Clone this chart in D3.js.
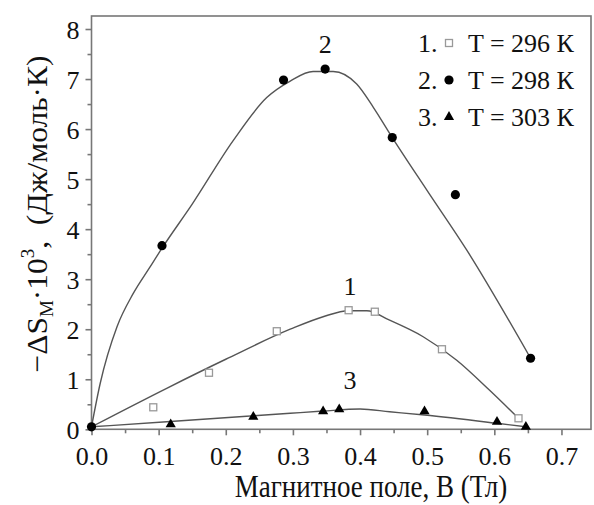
<!DOCTYPE html>
<html>
<head>
<meta charset="utf-8">
<script src="https://cdn.jsdelivr.net/npm/d3@7"></script>
<style>
  body { margin: 0; background: #fff; }
  svg text { font-family: "Liberation Serif", "Times New Roman", serif; fill: #111; }
</style>
</head>
<body>
<svg width="594" height="505"></svg>
<script>
// measured points, B (Тл) vs -dS*10^3
const pts296 = [[0.092, 0.44], [0.175, 1.13], [0.276, 1.96], [0.383, 2.38], [0.422, 2.35], [0.522, 1.60], [0.636, 0.22]];
const pts298 = [[0, 0.05], [0.105, 3.67], [0.286, 6.98], [0.348, 7.20], [0.448, 5.83], [0.542, 4.69], [0.654, 1.42]];
const pts303 = [[0.118, 0.10], [0.241, 0.25], [0.345, 0.36], [0.369, 0.40], [0.496, 0.36], [0.604, 0.15], [0.647, 0.05]];

// fitted curves
const fit296 = [[0, 0.05], [0.112, 0.82], [0.2, 1.4], [0.296, 2.0], [0.345, 2.25], [0.383, 2.37], [0.41, 2.37], [0.444, 2.18], [0.494, 1.85], [0.544, 1.38], [0.593, 0.78], [0.636, 0.22]];
const fit298 = [[0, 0.05], [0.013, 0.92], [0.038, 2.05], [0.062, 2.71], [0.087, 3.24], [0.105, 3.62], [0.15, 4.5], [0.211, 5.77], [0.261, 6.63], [0.296, 6.96], [0.33, 7.15], [0.36, 7.15], [0.395, 6.9], [0.42, 6.43], [0.448, 5.83], [0.5, 4.77], [0.559, 3.58], [0.654, 1.42]];
const fit303 = [[0, 0.05], [0.112, 0.15], [0.296, 0.32], [0.345, 0.365], [0.40, 0.405], [0.444, 0.35], [0.496, 0.285], [0.604, 0.12], [0.647, 0.05]];

const xTicks = [0, 0.1, 0.2, 0.3, 0.4, 0.5, 0.6, 0.7];
const yTicks = [0, 1, 2, 3, 4, 5, 6, 7, 8];
const legendRows = [
  { num: '1.', label: 'T = 296 К', mark: 'square' },
  { num: '2.', label: 'T = 298 К', mark: 'circle' },
  { num: '3.', label: 'T = 303 К', mark: 'triangle' }
];
const curveLabels = [['2', 0.348, 7.7], ['1', 0.385, 2.86], ['3', 0.385, 0.98]];

const svg = d3.select('svg');
const frame = { l: 91.5, r: 591, t: 16, b: 429.3 };

const x = d3.scaleLinear().domain([0, 0.744]).range([frame.l, frame.r]);
const y = d3.scaleLinear().domain([0, 8.26]).range([frame.b, frame.t]);

const axisColor = '#777';
const lineColor = '#555';

// frame
svg.append('rect')
  .attr('x', frame.l).attr('y', frame.t)
  .attr('width', frame.r - frame.l).attr('height', frame.b - frame.t)
  .attr('fill', 'none').attr('stroke', axisColor).attr('stroke-width', 1.6);

// x axis
const xAxis = svg.append('g').attr('transform', `translate(0,${frame.b})`)
  .call(d3.axisBottom(x).tickValues(xTicks).tickSize(6).tickPadding(6).tickFormat(d3.format('.1f')));
const xMinor = svg.append('g').attr('transform', `translate(0,${frame.b})`)
  .call(d3.axisBottom(x).tickValues(d3.range(0.05, 0.74, 0.1)).tickSize(4).tickFormat(''));

// y axis
const yAxis = svg.append('g').attr('transform', `translate(${frame.l},0)`)
  .call(d3.axisLeft(y).tickValues(yTicks).tickSize(6).tickPadding(6).tickFormat(d3.format('d')));
const yMinor = svg.append('g').attr('transform', `translate(${frame.l},0)`)
  .call(d3.axisLeft(y).tickValues(d3.range(0.5, 8, 1)).tickSize(4).tickFormat(''));

[xAxis, xMinor, yAxis, yMinor].forEach(g => {
  g.select('.domain').remove();
  g.selectAll('line').attr('stroke', axisColor).attr('stroke-width', 1.6);
  g.selectAll('text').attr('font-size', 26).attr('fill', '#111');
});
xAxis.selectAll('text').attr('dy', '0.92em');
yAxis.selectAll('text').attr('dy', '0.36em');

// axis titles (reference lettering is a bit stretched)
svg.append('text')
  .attr('transform', 'translate(371,497) scale(1,1.18)')
  .attr('text-anchor', 'middle')
  .attr('font-size', 27)
  .text('Магнитное поле, B (Тл)');

const yTitle = svg.append('text')
  .attr('transform', 'translate(47,214) rotate(-90) scale(1.05,1)')
  .attr('text-anchor', 'middle')
  .attr('font-size', 30)
  .style('white-space', 'pre');
yTitle.append('tspan').text('−ΔS');
yTitle.append('tspan').attr('font-size', 18).attr('dy', 6).text('М');
yTitle.append('tspan').attr('dy', -6).text('·10');
yTitle.append('tspan').attr('font-size', 18).attr('dy', -13).text('3');
yTitle.append('tspan').attr('dy', 13).text(',  (Дж/моль·К)');

// curves
const line = d3.line().x(d => x(d[0])).y(d => y(d[1])).curve(d3.curveMonotoneX);
[fit296, fit298, fit303].forEach(f => {
  svg.append('path').datum(f)
    .attr('d', line)
    .attr('fill', 'none')
    .attr('stroke', lineColor)
    .attr('stroke-width', 1.4);
});

// markers
const sq = 7;
svg.append('g').selectAll('rect').data(pts296).join('rect')
  .attr('x', d => x(d[0]) - sq / 2).attr('y', d => y(d[1]) - sq / 2)
  .attr('width', sq).attr('height', sq)
  .attr('fill', '#fff').attr('stroke', '#999').attr('stroke-width', 1.3);

svg.append('g').selectAll('circle').data(pts298).join('circle')
  .attr('cx', d => x(d[0])).attr('cy', d => y(d[1])).attr('r', 4.6)
  .attr('fill', '#000');

const tri = d3.symbol().type(d3.symbolTriangle).size(45);
svg.append('g').selectAll('path').data(pts303).join('path')
  .attr('transform', d => `translate(${x(d[0])},${y(d[1])})`)
  .attr('d', tri)
  .attr('fill', '#000');

// curve numbers
svg.append('g').selectAll('text').data(curveLabels).join('text')
  .attr('x', d => x(d[1])).attr('y', d => y(d[2]))
  .attr('text-anchor', 'middle')
  .attr('dy', '0.35em')
  .attr('font-size', 26)
  .text(d => d[0]);

// legend
const lg = svg.append('g').selectAll('g').data(legendRows).join('g')
  .attr('transform', (d, i) => `translate(0,${43 + i * 37})`);
lg.append('text').attr('x', 418).attr('dy', '0.35em').attr('font-size', 26).text(d => d.num);
lg.append('text').attr('x', 468).attr('dy', '0.35em').attr('font-size', 26).text(d => d.label);
lg.filter(d => d.mark === 'square').append('rect')
  .attr('x', 445.5).attr('y', -3.5).attr('width', 7).attr('height', 7)
  .attr('fill', '#fff').attr('stroke', '#999').attr('stroke-width', 1.3);
lg.filter(d => d.mark === 'circle').append('circle')
  .attr('cx', 449).attr('r', 4.6).attr('fill', '#000');
lg.filter(d => d.mark === 'triangle').append('path')
  .attr('transform', 'translate(449,0)')
  .attr('d', tri).attr('fill', '#000');
</script>
</body>
</html>
